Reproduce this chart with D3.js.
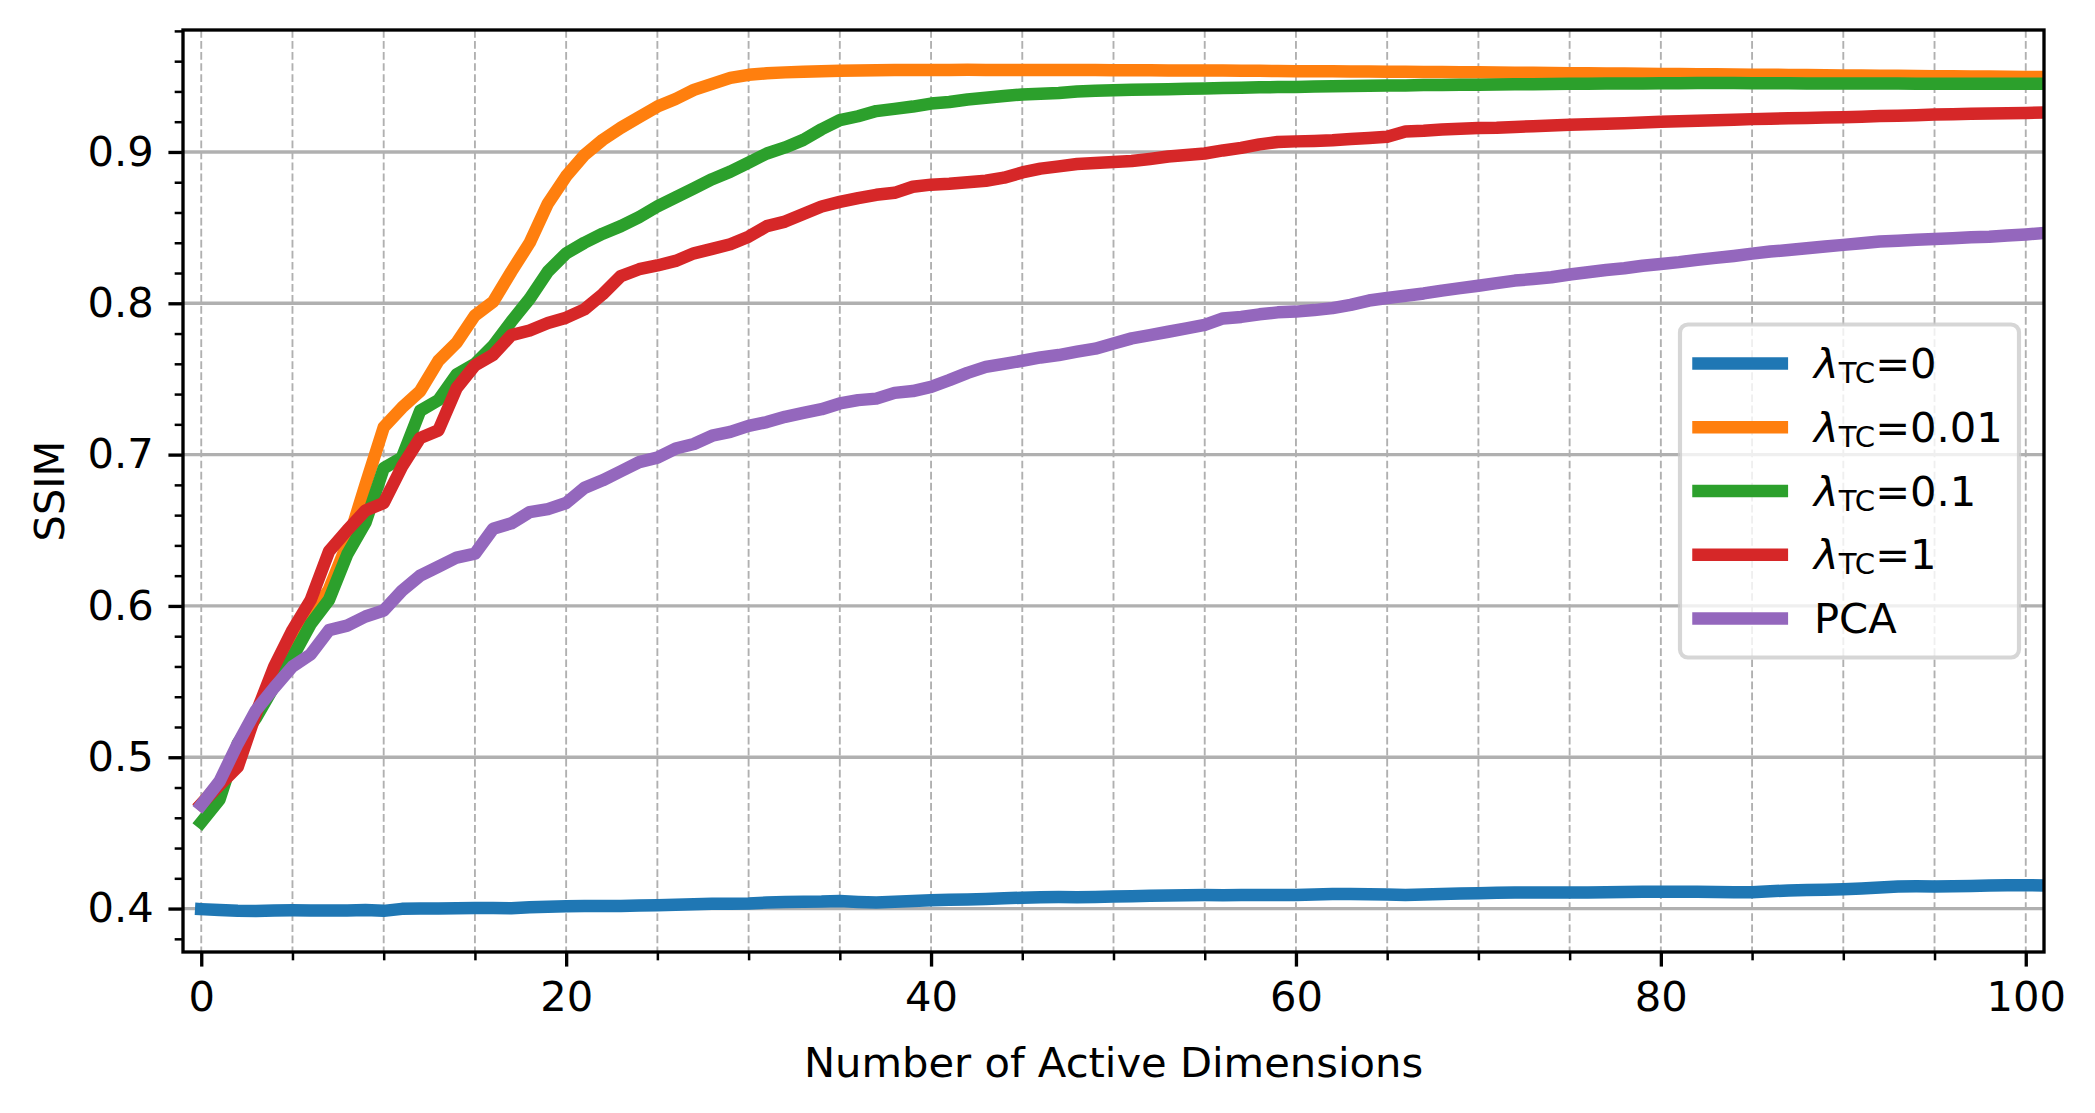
<!DOCTYPE html>
<html><head><meta charset="utf-8">
<script src="https://cdn.jsdelivr.net/npm/d3@7"></script>
<style>
html,body{margin:0;padding:0;background:#fff;}
svg{display:block;}
text{font-family:"DejaVu Sans",sans-serif;}
</style>
</head><body>
<svg id="chart" width="2095" height="1113"></svg>
<script>
// ---------------- data ----------------
const dims = [0,1,2,3,4,5,6,7,8,9,10,11,12,13,14,15,16,17,18,19,20,21,22,23,24,25,26,27,28,29,30,
31,32,33,34,35,36,37,38,39,40,41,42,43,44,45,46,47,48,49,50,51,52,53,54,55,56,57,58,59,60,
61,62,63,64,65,66,67,68,69,70,71,72,73,74,75,76,77,78,79,80,81,82,83,84,85,86,87,88,89,90,
91,92,93,94,95,96,97,98,99,100,101];

const ssimTC0 = [0.3996,0.3990,0.3985,0.3984,0.3988,0.3989,0.3988,0.3988,0.3988,0.3990,0.3985,
0.3998,0.4000,0.4001,0.4002,0.4003,0.4003,0.4002,0.4008,0.4012,0.4015,
0.4017,0.4017,0.4017,0.4020,0.4022,0.4025,0.4028,0.4032,0.4032,0.4034,
0.4040,0.4043,0.4045,0.4046,0.4050,0.4044,0.4040,0.4045,0.4050,0.4055,
0.4058,0.4060,0.4064,0.4068,0.4072,0.4075,0.4076,0.4075,0.4077,0.4080,
0.4082,0.4084,0.4086,0.4088,0.4089,0.4088,0.4089,0.4090,0.4090,0.4090,
0.4093,0.4096,0.4096,0.4095,0.4093,0.4089,0.4093,0.4096,0.4099,0.4101,
0.4104,0.4107,0.4106,0.4106,0.4106,0.4107,0.4108,0.4110,0.4111,0.4111,
0.4111,0.4111,0.4110,0.4108,0.4108,0.4114,0.4120,0.4123,0.4125,0.4128,
0.4133,0.4140,0.4146,0.4147,0.4146,0.4147,0.4149,0.4152,0.4154,0.4154,0.4153];

const ssimTC001 = [0.469,0.483,0.505,0.528,0.552,0.574,0.592,0.611,0.641,0.680,0.718,
0.731,0.742,0.762,0.774,0.792,0.801,0.821,0.840,0.866,0.884,
0.898,0.908,0.916,0.923,0.930,0.935,0.941,0.945,0.949,0.951,
0.9520,0.9526,0.9530,0.9534,0.9537,0.9539,0.9540,0.9541,0.9542,0.9542,
0.9542,0.9543,0.9542,0.9542,0.9542,0.9541,0.9541,0.9542,0.9541,0.9540,
0.9540,0.9540,0.9539,0.9539,0.9538,0.9538,0.9537,0.9536,0.9535,0.9534,
0.9533,0.9533,0.9532,0.9531,0.9530,0.9530,0.9529,0.9528,0.9527,0.9526,
0.9525,0.9524,0.9523,0.9522,0.9521,0.9520,0.9519,0.9518,0.9517,0.9516,
0.9515,0.9514,0.9513,0.9512,0.9511,0.9510,0.9509,0.9508,0.9507,0.9506,
0.9505,0.9504,0.9503,0.9502,0.9501,0.9500,0.9499,0.9498,0.9497,0.9496,0.9495];

const ssimTC01 = [0.457,0.472,0.509,0.526,0.547,0.566,0.588,0.604,0.634,0.655,0.691,
0.698,0.729,0.736,0.753,0.760,0.772,0.788,0.803,0.821,0.833,
0.840,0.846,0.851,0.857,0.864,0.870,0.876,0.882,0.887,0.893,
0.899,0.903,0.908,0.915,0.921,0.9236,0.927,0.9285,0.930,0.932,
0.933,0.9347,0.9358,0.937,0.938,0.9384,0.939,0.940,0.9404,0.9408,
0.9411,0.9413,0.9415,0.9418,0.9420,0.9423,0.9425,0.9427,0.9429,0.9430,
0.9432,0.9434,0.9436,0.9437,0.9439,0.9440,0.9442,0.9443,0.9444,0.9445,
0.9446,0.9447,0.9448,0.9449,0.9450,0.9451,0.9452,0.9452,0.9453,0.9454,
0.9454,0.9455,0.9455,0.9455,0.9454,0.9454,0.9454,0.9453,0.9453,0.9453,
0.9452,0.9452,0.9452,0.9451,0.9451,0.9451,0.9451,0.9450,0.9450,0.9450,0.9450];

const ssimTC1 = [0.469,0.4815,0.4936,0.529,0.560,0.584,0.604,0.636,0.650,0.663,0.668,
0.692,0.711,0.716,0.744,0.759,0.766,0.779,0.782,0.787,0.7905,
0.796,0.806,0.818,0.8225,0.825,0.828,0.833,0.836,0.839,0.844,
0.851,0.854,0.859,0.864,0.867,0.8695,0.8717,0.873,0.877,0.8784,
0.879,0.880,0.881,0.883,0.8865,0.889,0.8905,0.892,0.8927,0.8934,
0.894,0.8954,0.897,0.898,0.899,0.901,0.9027,0.905,0.9066,0.907,
0.9073,0.9077,0.9085,0.9093,0.910,0.9135,0.914,0.9148,0.9153,0.9158,
0.916,0.9165,0.917,0.9175,0.918,0.9183,0.9186,0.919,0.9195,0.920,
0.9203,0.9207,0.921,0.9213,0.9217,0.922,0.9223,0.9225,0.9227,0.923,
0.9233,0.9237,0.924,0.9243,0.9247,0.925,0.9252,0.9254,0.9256,0.9258,0.926];

const ssimPCA = [0.4685,0.484,0.509,0.531,0.546,0.560,0.568,0.584,0.587,0.593,0.597,
0.610,0.620,0.626,0.632,0.6345,0.651,0.6546,0.662,0.664,0.668,
0.678,0.683,0.689,0.695,0.698,0.704,0.707,0.7125,0.715,0.719,
0.7215,0.725,0.7276,0.730,0.7338,0.736,0.737,0.7408,0.742,0.7448,
0.7492,0.754,0.758,0.760,0.762,0.7642,0.7658,0.768,0.770,0.7735,
0.7768,0.779,0.7812,0.7834,0.7857,0.790,0.791,0.7927,0.794,0.7945,
0.7955,0.7968,0.799,0.8018,0.8035,0.805,0.8065,0.8084,0.810,0.8116,
0.8133,0.815,0.816,0.8172,0.819,0.8205,0.822,0.8232,0.8248,0.826,
0.8272,0.8287,0.830,0.8313,0.8328,0.8342,0.8352,0.8364,0.8375,0.8386,
0.8397,0.8408,0.8414,0.842,0.8425,0.843,0.8436,0.844,0.8448,0.8455,0.8464];

const seriesValues = [ssimTC0, ssimTC001, ssimTC01, ssimTC1, ssimPCA];
const seriesColors = ["#1f77b4","#ff7f0e","#2ca02c","#d62728","#9467bd"];
const lambdaValues = ["0","0.01","0.1","1",null];   // null -> plain label
const plainLabel = "PCA";

const xMajorTicks = [0,20,40,60,80,100];
const xMinorTicks = [5,10,15,25,30,35,45,50,55,65,70,75,85,90,95];
const xGridLines  = [0,5,10,15,20,25,30,35,40,45,50,55,60,65,70,75,80,85,90,95,100];
const yMajorTicks = [0.4,0.5,0.6,0.7,0.8,0.9];
const yMinorTicks = [0.38,0.42,0.44,0.46,0.48,0.52,0.54,0.56,0.58,0.62,0.64,0.66,0.68,
                     0.72,0.74,0.76,0.78,0.82,0.84,0.86,0.88,0.92,0.94,0.96,0.98];
const xDomain = [-1, 101];
const yDomain = [0.3713, 0.9806];
const xLabel = "Number of Active Dimensions";
const yLabel = "SSIM";

// ---------------- layout ----------------
const FS = 41.67;              // 10pt @ 300dpi
const PT = 300/72;
const plot = {left:183, top:30, right:2044, bottom:952};
const W = plot.right - plot.left, H = plot.bottom - plot.top;

const svg = d3.select("#chart");
svg.append("rect").attr("width",2095).attr("height",1113).attr("fill","#fff");

const x = d3.scaleLinear().domain(xDomain).range([0, W]);
const y = d3.scaleLinear().domain(yDomain).range([H, 0]);

const g = svg.append("g").attr("transform",`translate(${plot.left},${plot.top})`);

svg.append("defs").append("clipPath").attr("id","clip")
  .append("rect").attr("x",0).attr("y",0).attr("width",W).attr("height",H);

// grid
const grid = g.append("g");
grid.selectAll("line.hg").data(yMajorTicks).enter().append("line")
  .attr("x1",0).attr("x2",W).attr("y1",d=>y(d)).attr("y2",d=>y(d))
  .attr("stroke","#b0b0b0").attr("stroke-width",0.8*PT);
grid.selectAll("line.vg").data(xGridLines).enter().append("line")
  .attr("y1",0).attr("y2",H).attr("x1",d=>x(d)).attr("x2",d=>x(d))
  .attr("stroke","#b0b0b0").attr("stroke-width",0.45*PT)
  .attr("stroke-dasharray",`${3.7*0.5*PT},${1.6*0.5*PT}`);

// lines
const line = d3.line().x((d,i)=>x(dims[i])).y(d=>y(d));
const lines = g.append("g").attr("clip-path","url(#clip)");
seriesValues.forEach((vals,k)=>{
  lines.append("path").datum(vals).attr("d",line)
    .attr("fill","none").attr("stroke",seriesColors[k])
    .attr("stroke-width",3*PT).attr("stroke-linejoin","round").attr("stroke-linecap","square");
});

// axes
function styleAxis(sel, w){
  sel.select(".domain").remove();
  sel.attr("font-family","DejaVu Sans").attr("font-size",FS);
  sel.selectAll(".tick line").attr("stroke","#000").attr("stroke-width",w);
  sel.selectAll(".tick text").attr("fill","#000");
}
const tickL = 3.5*PT, tickPad = 3.5*PT, minorL = 2*PT;
g.append("g").attr("transform",`translate(0,${H})`)
  .call(d3.axisBottom(x).tickValues(xMajorTicks).tickSize(tickL).tickPadding(tickPad).tickFormat(d3.format("d")))
  .call(s=>styleAxis(s,0.8*PT));
g.append("g").attr("transform",`translate(0,${H})`)
  .call(d3.axisBottom(x).tickValues(xMinorTicks).tickSize(minorL).tickFormat(""))
  .call(s=>styleAxis(s,0.6*PT));
g.append("g")
  .call(d3.axisLeft(y).tickValues(yMajorTicks).tickSize(tickL).tickPadding(tickPad).tickFormat(d3.format(".1f")))
  .call(s=>styleAxis(s,0.8*PT));
g.append("g")
  .call(d3.axisLeft(y).tickValues(yMinorTicks).tickSize(minorL).tickFormat(""))
  .call(s=>styleAxis(s,0.6*PT));

// spines
g.append("rect").attr("x",0).attr("y",0).attr("width",W).attr("height",H)
  .attr("fill","none").attr("stroke","#000").attr("stroke-width",0.8*PT);

// axis labels
svg.append("text").attr("x",plot.left+W/2).attr("y",1077)
  .attr("text-anchor","middle").attr("font-size",FS).attr("fill","#000").text(xLabel);
svg.append("text").attr("transform",`translate(64,${plot.top+H/2}) rotate(-90)`)
  .attr("text-anchor","middle").attr("font-size",FS).attr("fill","#000").text(yLabel);

// legend
const legW = 339, legH = 333;
const legX = plot.right - 25 - legW;
const legY = plot.top + H/2 - legH/2;
const leg = svg.append("g");
leg.append("rect").attr("x",legX).attr("y",legY).attr("width",legW).attr("height",legH)
  .attr("rx",8).attr("ry",8)
  .attr("fill","#fff").attr("fill-opacity",0.8)
  .attr("stroke","#cccccc").attr("stroke-opacity",0.8).attr("stroke-width",1.0*PT);
const rowStep = 63.75;
seriesColors.forEach((c,i)=>{
  const cy = legY + legH/2 + (i-2)*rowStep;
  leg.append("line").attr("x1",legX+18.5).attr("x2",legX+18.5+2*FS)
    .attr("y1",cy).attr("y2",cy)
    .attr("stroke",c).attr("stroke-width",3*PT).attr("stroke-linecap","square");
  const t = leg.append("text").attr("x",legX+134).attr("y",cy+14.7)
    .attr("font-size",FS).attr("fill","#000");
  if(lambdaValues[i]!==null){
    t.append("tspan").attr("font-style","italic").text("λ");
    t.append("tspan").attr("font-size",FS*0.7).attr("dy",5).text("TC");
    t.append("tspan").attr("dy",-5).text("=" + lambdaValues[i]);
  } else {
    t.text(plainLabel);
  }
});
</script>
</body></html>
